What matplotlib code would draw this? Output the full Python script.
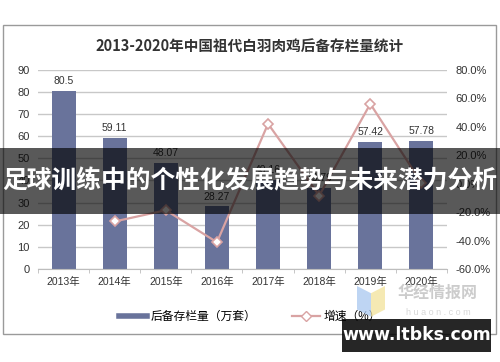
import matplotlib
matplotlib.use("Agg")
import matplotlib.pyplot as plt
from matplotlib.patches import Rectangle, Polygon
from matplotlib.lines import Line2D
import numpy as np

years = ['2013年', '2014年', '2015年', '2016年', '2017年', '2018年', '2019年', '2020年']
stock = [80.5, 59.11, 48.07, 28.27, 40.16, 36.79, 57.42, 57.78]
growth = [None, -26.6, -18.7, -41.2, 42.1, -8.4, 56.1, 0.6]

title = '2013-2020年中国祖代白羽肉鸡后备存栏量统计'
banner = '足球训练中的个性化发展趋势与未来潜力分析'
bar_name = '后备存栏量（万套）'
line_name = '增速（%）'

fonts = ['Liberation Sans', 'Noto Sans CJK SC', 'DejaVu Sans']
plt.rcParams['font.family'] = fonts

bar_color = '#69739b'
line_color = '#d9a3a3'

fig = plt.figure(figsize=(5, 3.62), dpi=100)

# outer frame of the chart
fig.patches.append(Rectangle((0.006, 0.077), 0.986, 0.854, transform=fig.transFigure,
                             fill=False, edgecolor='#9a9a9a', linewidth=1.0, zorder=0))

ax = fig.add_axes([0.076, 0.257, 0.818, 0.55])
x = np.arange(len(years))
bars = ax.bar(x, stock, width=0.47, color=bar_color, zorder=2)
for xi, v in zip(x, stock):
    ax.text(xi, v + 2.2, f'{v:g}', ha='center', va='bottom', fontsize=7.5, color='#333333')

ax.set_ylim(0, 90)
ax.set_yticks(range(0, 91, 10))
ax.set_xlim(-0.5, len(years) - 0.5)
ax.yaxis.grid(True, color='#c8c8c8', linewidth=1.0, zorder=0)
ax.set_axisbelow(True)
for s in ['top', 'right', 'left']:
    ax.spines[s].set_visible(False)
ax.spines['bottom'].set_color('#bdbdbd')
ax.tick_params(axis='y', length=0, labelsize=8, colors='#333333', pad=6)
ax.set_xticks(x)
ax.set_xticklabels(years, fontsize=7.5, color='#333333')
ax.set_xticks(np.arange(-0.5, len(years), 1), minor=True)
ax.tick_params(axis='x', which='major', length=0, pad=6)
ax.tick_params(axis='x', which='minor', length=3, color='#bdbdbd')

ax2 = ax.twinx()
gx = [xi for xi, g in zip(x, growth) if g is not None]
gy = [g for g in growth if g is not None]
ax2.plot(gx, gy, color=line_color, linewidth=1.6, marker='D', markersize=5,
         markerfacecolor='white', markeredgecolor=line_color, markeredgewidth=1.2, zorder=3)
ax2.set_ylim(-60, 80)
ax2.set_yticks(range(-60, 81, 20))
ax2.set_yticklabels([f'{t:.1f}%' for t in range(-60, 81, 20)])
ax2.tick_params(axis='y', length=0, labelsize=8, colors='#333333', pad=6)
for s in ax2.spines.values():
    s.set_visible(False)

fig.text(0.5, 0.872, title, ha='center', va='center', fontsize=10.5,
         fontweight='bold', color='#333333', family=['Noto Sans CJK SC', 'DejaVu Sans'])

handles = [Line2D([0], [0], color=bar_color, linewidth=4),
           Line2D([0], [0], color=line_color, linewidth=1.6, marker='D', markersize=5,
                  markerfacecolor='white', markeredgecolor=line_color)]
fig.legend(handles, [bar_name, line_name], loc='center', bbox_to_anchor=(0.5, 0.125),
           ncol=2, frameon=False, fontsize=8.5, handlelength=2.4, columnspacing=3.0,
           handletextpad=0.3)

# overlay banner across the middle
fig.patches.append(Rectangle((0, 0.409), 1, 0.182, transform=fig.transFigure,
                             facecolor='black', alpha=0.65, edgecolor='none', zorder=10))
fig.text(0.5, 0.5, banner, ha='center', va='center', fontsize=17.8, fontweight='bold',
         color='white', zorder=11, family=['Noto Sans CJK SC', 'DejaVu Sans'])

# watermark logo
fig.patches.append(Polygon([(0.714, 0.21), (0.742, 0.19), (0.742, 0.125), (0.714, 0.145)],
                           closed=True, transform=fig.transFigure,
                           facecolor='#a9c8f0', alpha=0.75, edgecolor='none', zorder=11))
fig.patches.append(Polygon([(0.742, 0.19), (0.77, 0.21), (0.77, 0.145), (0.742, 0.125)],
                           closed=True, transform=fig.transFigure,
                           facecolor='#f2e29a', alpha=0.75, edgecolor='none', zorder=11))
fig.text(0.876, 0.19, '华经情报网', ha='center', va='center', fontsize=11.5, fontweight='bold',
         color='#c4c4c4', alpha=0.85, zorder=11, family=['Noto Sans CJK SC', 'DejaVu Sans'])
fig.text(0.876, 0.138, 'h u a o n . c o m', ha='center', va='center', fontsize=6.5,
         color='#d0d0d0', alpha=0.85, zorder=11)

fig.patches.append(Rectangle((0.684, 0.028), 0.298, 0.091, transform=fig.transFigure,
                             facecolor='black', alpha=0.85, edgecolor='none', zorder=12))
fig.text(0.833, 0.074, 'www.ltbks.com', ha='center', va='center', fontsize=12.5,
         fontweight='bold', color='white', zorder=13, family=['DejaVu Sans'])

fig.savefig('out.png', dpi=100)
